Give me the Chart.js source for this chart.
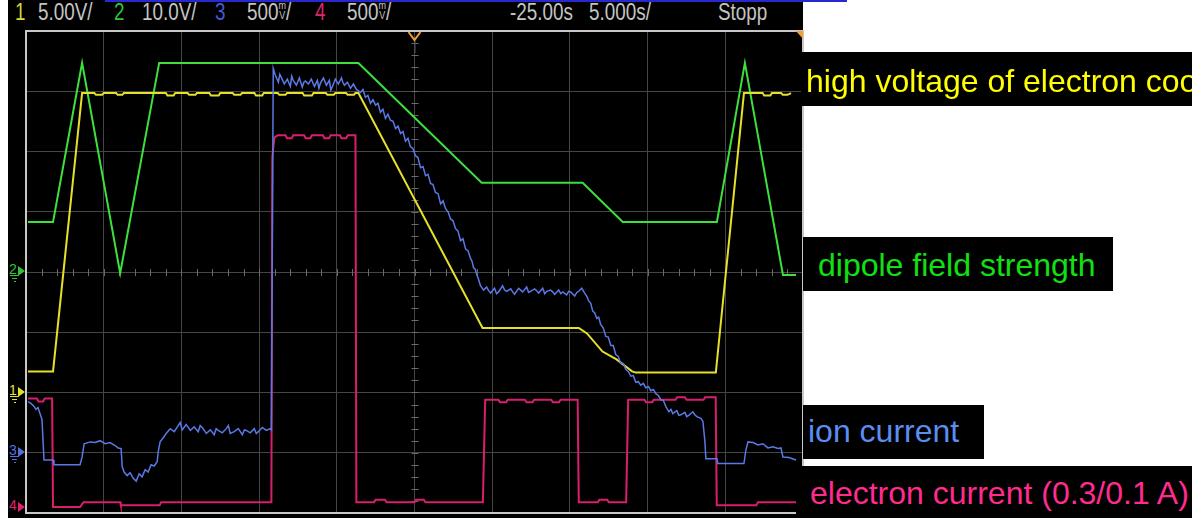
<!DOCTYPE html>
<html>
<head>
<meta charset="utf-8">
<script src="https://cdn.jsdelivr.net/npm/chart.js@4.4.1/dist/chart.umd.min.js"></script>
<style>
  html, body { margin: 0; padding: 0; width: 1192px; height: 518px; overflow: hidden; background: #fff; }
  #scope { position: absolute; left: 8px; top: 0; width: 795px; height: 518px; background: #000; }
  #link { position: absolute; left: 105px; top: 0; width: 742px; height: 2px; background: #2828d0; }
  .hdr { position: absolute; top: 0; font: 23px "Liberation Sans", Arial, sans-serif;
         color: #c4c4c4; line-height: 24px; white-space: nowrap; transform: scaleX(0.82); transform-origin: 0 0; }
  .mv { display: inline-block; font-size: 11px; line-height: 10px; vertical-align: 1px; text-align: center; }
  #wrap { position: absolute; left: 25px; top: 30px; width: 779px; height: 484px; }
  .box { position: absolute; background: #000; }
  .lbl { position: absolute; font: 32px "Liberation Sans", Arial, sans-serif; line-height: 32px; white-space: nowrap; }
  .mk { position: absolute; font: 14px "Liberation Sans", Arial, sans-serif; line-height: 14px; }
  .tri { position: absolute; width: 0; height: 0; border-top: 5px solid transparent; border-bottom: 5px solid transparent; }
  .gnd { position: absolute; height: 1px; }
</style>
</head>
<body>
<div id="scope"></div>
<div id="link"></div>

<span class="hdr" style="left:15px;color:#d6d640">1</span>
<span class="hdr" style="left:38px">5.00V/</span>
<span class="hdr" style="left:114px;color:#33c433">2</span>
<span class="hdr" style="left:142px">10.0V/</span>
<span class="hdr" style="left:215px;color:#4858d8">3</span>
<span class="hdr" style="left:247px">500<span class="mv">m<br>V</span>/</span>
<span class="hdr" style="left:315px;color:#d82868">4</span>
<span class="hdr" style="left:347px">500<span class="mv">m<br>V</span>/</span>
<span class="hdr" style="left:510px">-25.00s</span>
<span class="hdr" style="left:589px">5.000s/</span>
<span class="hdr" style="left:718px">Stopp</span>

<div id="wrap"><canvas id="scopeChart"></canvas></div>

<div class="box" style="left:801px;top:52px;width:391px;height:54px"></div>
<span class="lbl" style="left:806px;top:65px;color:#ffff00">high voltage of electron cooler</span>
<div class="box" style="left:803px;top:237px;width:310px;height:54px"></div>
<span class="lbl" style="left:818px;top:249px;color:#12e012">dipole field strength</span>
<div class="box" style="left:803px;top:405px;width:181px;height:54px"></div>
<span class="lbl" style="left:808px;top:415px;color:#5b8ef0">ion current</span>
<div class="box" style="left:796px;top:466px;width:396px;height:52px"></div>
<span class="lbl" style="left:810px;top:477px;color:#ff2b8f">electron current (0.3/0.1 A)</span>

<script>
// time axis: -25 s at centre, 5 s/div ; values in screen divisions
const timeMin = -50;
const timeMax = 0;
const divMin = -4;
const divMax = 4;

// channel 2 - dipole field strength
const ch2 = [[-49.87,0.83],[-48.26,0.83],[-46.39,3.47],[-43.94,-0.02],[-41.43,3.47],[-28.61,3.47],
  [-20.68,1.48],[-14.18,1.48],[-11.60,0.83],[-5.54,0.83],[-3.74,3.47],[-1.29,-0.05],[-0.45,-0.05]];

// channel 1 - high voltage of electron cooler
const ch1 = [[-49.87,-1.65],[-48.26,-1.65],[-46.39,2.97],[-45.6,2.97],[-45.5,2.94],[-45.1,2.94],[-45.0,2.97],
  [-44.2,2.97],[-44.1,2.94],[-43.8,2.94],[-43.7,2.97],[-41.0,2.97],[-40.9,2.93],[-40.5,2.93],[-40.4,2.97],
  [-39.6,2.97],[-39.5,2.94],[-39.1,2.94],[-39.0,2.97],[-38.2,2.97],[-38.1,2.93],[-37.6,2.93],[-37.5,2.97],
  [-36.7,2.97],[-36.6,2.94],[-36.2,2.94],[-36.1,2.97],[-35.3,2.97],[-35.2,2.93],[-34.8,2.93],[-34.7,2.97],
  [-33.8,2.97],[-33.7,2.94],[-33.3,2.94],[-33.2,2.97],[-32.2,2.97],[-32.1,2.93],[-31.6,2.93],[-31.5,2.97],
  [-30.7,2.97],[-30.6,2.94],[-30.2,2.94],[-30.1,2.97],[-29.4,2.97],[-29.3,2.94],[-28.9,2.94],[-28.8,2.97],
  [-28.61,2.97],[-20.62,-0.93],[-14.43,-0.93],[-13.9,-1.02],[-12.9,-1.32],[-12.0,-1.45],[-11.0,-1.65],
  [-10.76,-1.67],[-5.61,-1.67],[-3.80,2.97],[-2.6,2.97],[-2.5,2.93],[-2.1,2.93],[-2.0,2.97],[-1.4,2.97],
  [-1.3,2.94],[-1.0,2.94],[-0.77,2.97]];

// channel 3 - ion current
const ch3 = [[-49.87,-2.15],[-49.68,-2.18],[-49.48,-2.23],[-49.36,-2.28],[-49.23,-2.25],[-49.10,-2.35],
  [-48.97,-2.45],[-48.90,-2.82],[-48.84,-3.12],[-48.26,-3.12],[-48.20,-3.20],[-46.52,-3.20],[-46.39,-3.07],
  [-46.26,-2.85],[-45.88,-2.82],[-45.55,-2.83],[-45.23,-2.80],[-44.91,-2.85],[-44.59,-2.83],[-44.27,-2.88],
  [-44.07,-2.92],[-43.88,-2.93],[-43.81,-3.23],[-43.69,-3.32],[-43.49,-3.38],[-43.30,-3.33],[-43.11,-3.42],
  [-42.91,-3.47],[-42.72,-3.35],[-42.53,-3.40],[-42.33,-3.28],[-42.14,-3.32],[-41.95,-3.20],[-41.75,-3.22],
  [-41.56,-3.15],[-41.49,-2.98],[-41.37,-2.82],[-41.17,-2.75],[-40.98,-2.68],[-40.72,-2.60],[-40.46,-2.65],
  [-40.21,-2.55],[-40.08,-2.50],[-39.95,-2.62],[-39.69,-2.53],[-39.56,-2.58],[-39.43,-2.63],[-39.18,-2.57],
  [-38.92,-2.65],[-38.79,-2.55],[-38.66,-2.58],[-38.40,-2.68],[-38.14,-2.62],[-37.89,-2.70],[-37.76,-2.60],
  [-37.63,-2.63],[-37.37,-2.67],[-37.11,-2.60],[-36.98,-2.55],[-36.86,-2.68],[-36.60,-2.65],[-36.34,-2.60],
  [-36.08,-2.70],[-35.95,-2.62],[-35.82,-2.63],[-35.57,-2.67],[-35.31,-2.60],[-35.18,-2.68],[-35.05,-2.65],
  [-34.79,-2.58],[-34.54,-2.63],[-34.28,-2.60],[-34.21,-2.62],[-34.09,3.38],[-33.96,3.27],[-33.76,3.15],
  [-33.67,3.28],[-33.57,3.23],[-33.38,3.12],[-33.18,3.20],[-32.99,3.08],[-32.90,3.25],[-32.80,3.18],
  [-32.60,3.10],[-32.41,3.22],[-32.22,3.07],[-32.12,3.15],[-32.02,3.17],[-31.83,3.12],[-31.64,3.20],
  [-31.44,3.08],[-31.25,3.18],[-31.15,3.05],[-31.06,3.13],[-30.86,3.22],[-30.67,3.10],[-30.48,3.18],
  [-30.38,3.02],[-30.28,3.08],[-30.09,3.20],[-29.90,3.12],[-29.70,3.22],[-29.60,3.14],[-29.51,3.10],
  [-29.32,3.15],[-29.12,3.05],[-28.93,3.12],[-28.74,3.03],
  [-28.48,2.98],[-28.32,3.03],[-28.16,2.90],[-28.00,2.93],[-27.83,2.80],[-27.67,2.86],[-27.51,2.77],
  [-27.35,2.80],[-27.19,2.65],[-27.03,2.70],[-26.87,2.55],[-26.71,2.62],[-26.55,2.52],[-26.38,2.50],
  [-26.22,2.38],[-26.06,2.42],[-25.90,2.30],[-25.74,2.33],[-25.58,2.17],[-25.42,2.22],[-25.26,2.08],
  [-25.10,2.05],[-24.94,1.93],[-24.78,1.90],[-24.61,1.73],[-24.45,1.75],[-24.29,1.60],[-24.13,1.62],
  [-23.97,1.47],[-23.81,1.45],[-23.65,1.32],[-23.48,1.30],[-23.32,1.13],[-23.16,1.18],[-23.00,1.05],
  [-22.84,1.00],[-22.68,0.88],[-22.52,0.85],[-22.36,0.72],[-22.20,0.68],[-22.04,0.52],[-21.88,0.55],
  [-21.71,0.38],[-21.55,0.35],[-21.39,0.22],[-21.30,0.18],[-21.20,0.07],[-21.10,0.05],[-21.01,-0.03],
  [-20.88,-0.12],[-20.75,-0.23],[-20.55,-0.30],
  [-20.36,-0.25],[-20.23,-0.31],[-20.10,-0.35],[-19.85,-0.27],[-19.72,-0.36],[-19.59,-0.33],[-19.33,-0.23],
  [-19.20,-0.30],[-19.07,-0.32],[-18.81,-0.28],[-18.68,-0.33],[-18.56,-0.37],[-18.30,-0.27],[-18.17,-0.30],
  [-18.04,-0.33],[-17.78,-0.25],[-17.66,-0.34],[-17.53,-0.32],[-17.27,-0.28],[-17.14,-0.31],[-17.01,-0.35],
  [-16.75,-0.27],[-16.62,-0.36],[-16.49,-0.32],[-16.24,-0.30],[-16.11,-0.33],[-15.98,-0.37],[-15.72,-0.30],
  [-15.59,-0.36],[-15.46,-0.33],[-15.21,-0.38],[-15.08,-0.32],[-14.95,-0.33],[-14.69,-0.40],[-14.56,-0.34],
  [-14.43,-0.32],[-14.24,-0.27],[-14.05,-0.35],
  [-13.92,-0.40],[-13.79,-0.48],[-13.66,-0.52],[-13.53,-0.65],[-13.40,-0.68],[-13.27,-0.77],[-13.15,-0.75],
  [-13.02,-0.87],[-12.85,-0.93],[-12.69,-1.07],[-12.53,-1.08],[-12.37,-1.22],[-12.21,-1.22],[-12.05,-1.37],
  [-11.89,-1.40],[-11.73,-1.52],[-11.56,-1.52],[-11.40,-1.62],[-11.24,-1.65],[-11.08,-1.73],[-10.92,-1.72],
  [-10.76,-1.83],[-10.60,-1.82],[-10.44,-1.88],[-10.28,-1.85],[-10.12,-1.92],[-9.95,-1.90],[-9.79,-1.97],
  [-9.63,-1.95],[-9.47,-2.02],[-9.31,-2.05],[-9.15,-2.12],[-8.99,-2.13],[-8.83,-2.23],[-8.63,-2.32],
  [-8.50,-2.28],[-8.38,-2.35],[-8.12,-2.30],[-7.99,-2.38],[-7.86,-2.37],[-7.60,-2.33],[-7.48,-2.40],
  [-7.35,-2.38],[-7.09,-2.32],[-6.96,-2.37],[-6.83,-2.40],[-6.57,-2.43],[-6.44,-2.48],[-6.31,-2.82],
  [-6.25,-3.10],[-5.54,-3.10],[-5.48,-3.18],[-3.80,-3.18],[-3.67,-2.95],[-3.54,-2.82],[-3.22,-2.83],
  [-2.90,-2.87],[-2.58,-2.85],[-2.26,-2.92],[-1.93,-2.90],[-1.61,-2.93],[-1.42,-2.92],[-1.29,-3.07],
  [-0.90,-3.08],[-0.45,-3.12]];

// channel 4 - electron current
const ch4 = [[-49.87,-2.10],[-49.3,-2.10],[-49.2,-2.15],[-48.9,-2.15],[-48.8,-2.10],[-48.32,-2.10],
  [-48.26,-3.90],[-46.52,-3.90],[-46.3,-3.82],[-43.94,-3.82],[-43.9,-3.87],[-41.4,-3.87],[-41.3,-3.82],
  [-34.21,-3.82],[-34.15,1.90],[-34.02,2.23],[-33.8,2.27],[-33.3,2.27],[-33.2,2.22],[-32.9,2.22],[-32.8,2.27],
  [-32.1,2.27],[-32.0,2.22],[-31.7,2.22],[-31.6,2.27],[-30.9,2.27],[-30.8,2.22],[-30.5,2.22],[-30.4,2.27],
  [-29.8,2.27],[-29.7,2.22],[-29.4,2.22],[-29.3,2.27],[-28.8,2.27],[-28.74,-3.82],[-27.6,-3.82],[-27.5,-3.78],
  [-26.9,-3.78],[-26.8,-3.82],[-25.0,-3.82],[-24.9,-3.78],[-24.4,-3.78],[-24.3,-3.82],[-20.6,-3.82],
  [-20.45,-2.12],[-19.6,-2.12],[-19.5,-2.16],[-19.1,-2.16],[-19.0,-2.12],[-17.9,-2.12],[-17.8,-2.16],
  [-17.4,-2.16],[-17.3,-2.12],[-16.2,-2.12],[-16.1,-2.16],[-15.7,-2.16],[-15.6,-2.12],[-14.5,-2.12],
  [-14.43,-3.82],[-13.2,-3.82],[-13.1,-3.78],[-12.6,-3.78],[-12.5,-3.82],[-11.38,-3.82],[-11.25,-2.12],
  [-10.2,-2.12],[-10.1,-2.16],[-9.7,-2.16],[-9.6,-2.12],[-8.2,-2.12],[-8.1,-2.08],[-7.6,-2.08],[-7.5,-2.12],
  [-6.4,-2.12],[-6.3,-2.08],[-5.62,-2.08],[-5.55,-3.87],[-3.0,-3.87],[-2.9,-3.82],[-0.45,-3.82]];

const toPoints = arr => arr.map(p => ({ x: p[0], y: p[1] }));

// grid decoration: centre-line minor ticks, trigger marker and frame
const scopeDeco = {
  id: 'scopeDeco',
  beforeDatasetsDraw(chart) {
    const { ctx, scales: { x, y } } = chart;
    const x0 = x.getPixelForValue(-25), y0 = y.getPixelForValue(0);
    ctx.save();
    ctx.strokeStyle = '#6a6a6a';
    ctx.lineWidth = 1;
    ctx.beginPath();
    for (let t = timeMin; t <= timeMax; t += 1) {
      const px = Math.round(x.getPixelForValue(t)) + 0.5;
      ctx.moveTo(px, y0 - 3); ctx.lineTo(px, y0 + 4);
    }
    for (let d = divMin; d <= divMax + 0.001; d += 0.2) {
      const py = Math.round(y.getPixelForValue(d)) + 0.5;
      ctx.moveTo(x0 - 3, py); ctx.lineTo(x0 + 4, py);
    }
    ctx.stroke();
    ctx.restore();
  },
  afterDraw(chart) {
    const { ctx, chartArea: a, scales: { x } } = chart;
    const x0 = x.getPixelForValue(-25);
    ctx.save();
    ctx.strokeStyle = '#c8c8c8';
    ctx.lineWidth = 2;
    ctx.strokeRect(a.left, a.top, a.right - a.left, a.bottom - a.top);
    // trigger position
    ctx.strokeStyle = '#f0a030';
    ctx.lineWidth = 2;
    ctx.beginPath();
    ctx.moveTo(x0 - 6, a.top + 1); ctx.lineTo(x0, a.top + 9); ctx.lineTo(x0 + 6, a.top + 1);
    ctx.stroke();
    ctx.strokeStyle = '#555';
    ctx.lineWidth = 1;
    ctx.beginPath();
    ctx.moveTo(x0 + 0.5, a.top + 10); ctx.lineTo(x0 + 0.5, a.top + 22);
    ctx.stroke();
    ctx.fillStyle = '#f0a030';
    ctx.beginPath();
    ctx.moveTo(a.right - 7, a.top); ctx.lineTo(a.right, a.top); ctx.lineTo(a.right, a.top + 8);
    ctx.closePath();
    ctx.fill();
    ctx.restore();
  }
};

new Chart(document.getElementById('scopeChart'), {
  type: 'scatter',
  data: {
    datasets: [
      { label: 'ion current', data: toPoints(ch3), borderColor: '#5b79e6', borderWidth: 1.5 },
      { label: 'electron current', data: toPoints(ch4), borderColor: '#d81e6e', borderWidth: 2 },
      { label: 'high voltage', data: toPoints(ch1), borderColor: '#e6e02a', borderWidth: 2 },
      { label: 'dipole field', data: toPoints(ch2), borderColor: '#3de03d', borderWidth: 2 }
    ].map(ds => Object.assign(ds, { showLine: true, pointRadius: 0, tension: 0, fill: false }))
  },
  options: {
    responsive: true,
    maintainAspectRatio: false,
    animation: false,
    devicePixelRatio: 1,
    layout: { padding: 1 },
    plugins: { legend: { display: false }, tooltip: { enabled: false } },
    scales: {
      x: {
        type: 'linear', min: timeMin, max: timeMax,
        ticks: { display: false, stepSize: 5 },
        grid: { color: '#454545', drawTicks: false },
        border: { display: false }
      },
      y: {
        type: 'linear', min: divMin, max: divMax,
        ticks: { display: false, stepSize: 1 },
        grid: { color: '#454545', drawTicks: false },
        border: { display: false }
      }
    }
  },
  plugins: [scopeDeco]
});

// channel ground markers on the left edge of the screen
const markers = [
  { n: '2', top: 271, color: '#33c433' },
  { n: '1', top: 392, color: '#e0e030' },
  { n: '3', top: 452, color: '#5070e0' },
  { n: '4', top: 507, color: '#e02070' }
];
markers.forEach(m => {
  const d = document.createElement('span');
  d.className = 'mk';
  d.textContent = m.n;
  d.style.cssText = `left:9px;top:${m.top - 9}px;color:${m.color}`;
  document.body.appendChild(d);
  const t = document.createElement('div');
  t.className = 'tri';
  t.style.cssText = `left:18px;top:${m.top - 5}px;border-left:7px solid ${m.color}`;
  document.body.appendChild(t);
  if (m.n !== '4') {
    [[10, 9], [12, 5], [14, 2]].forEach((g, i) => {
      const l = document.createElement('div');
      l.className = 'gnd';
      l.style.cssText = `left:${g[0]}px;width:${g[1]}px;top:${m.top + 4 + i * 3}px;background:${m.color}`;
      document.body.appendChild(l);
    });
  }
});
</script>
</body>
</html>
